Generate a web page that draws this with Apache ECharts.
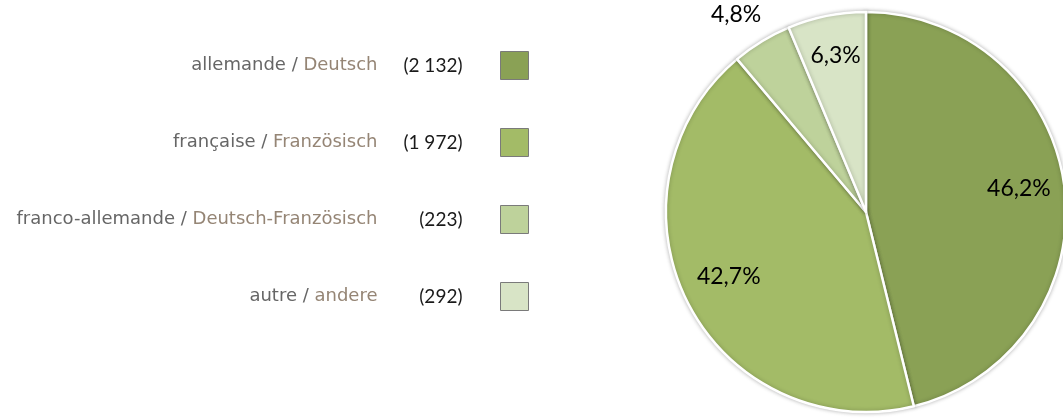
<!DOCTYPE html>
<html>
<head>
<meta charset="utf-8">
<script src="https://cdn.jsdelivr.net/npm/echarts@6/dist/echarts.min.js"></script>
<style>
  html, body { margin: 0; padding: 0; background: #fff; }
  #chart { width: 1063px; height: 418px; }
</style>
</head>
<body>
<div id="chart"></div>
<script>
// langue familiale / Familiensprache
var namesFr = ['allemande', 'française', 'franco-allemande', 'autre'];
var namesDe = ['Deutsch', 'Französisch', 'Deutsch-Französisch', 'andere'];
var counts = [2132, 1972, 223, 292];
var colors = ['#8aa155', '#a3bb67', '#bed29b', '#d8e4c6'];

var fullNames = namesFr.map(function (fr, i) { return fr + ' / ' + namesDe[i]; });
var total = counts.reduce(function (a, b) { return a + b; }, 0);

var cx = 866, cy = 212, r = 200;

function fmtCount(v) {
  return String(v).replace(/\B(?=(\d{3})+(?!\d))/g, ' ');
}

var chart = echarts.init(document.getElementById('chart'));

var option = {
  backgroundColor: '#fff',
  color: colors,
  legend: {
    orient: 'vertical',
    align: 'right',
    right: 534,
    top: 51,
    padding: 0,
    itemWidth: 28,
    itemHeight: 28,
    itemGap: 48,
    icon: 'rect',
    selectedMode: false,
    itemStyle: { borderColor: '#7a7a7a', borderWidth: 1 },
    data: fullNames,
    formatter: function (name) {
      var i = fullNames.indexOf(name);
      return '{fr|' + namesFr[i] + ' / }{de|' + namesDe[i] + '}{n|(' + fmtCount(counts[i]) + ')}';
    },
    textStyle: {
      fontFamily: 'DejaVu Sans',
      fontSize: 18,
      rich: {
        fr: { fontFamily: 'DejaVu Sans', fontSize: 18, color: '#666666' },
        de: { fontFamily: 'DejaVu Sans', fontSize: 18, color: '#958575' },
        n: { fontFamily: 'Lato', fontSize: 19, color: '#1a1a1a', width: 85, align: 'right', padding: [0, 33, 0, 0] }
      }
    }
  },
  series: [{
    type: 'pie',
    center: [cx, cy],
    radius: r,
    startAngle: 90,
    clockwise: true,
    silent: true,
    itemStyle: {
      borderColor: '#fff',
      borderWidth: 2.5,
      shadowBlur: 4,
      shadowColor: 'rgba(0,0,0,0.25)'
    },
    label: {
      position: 'inside',
      fontFamily: 'Lato',
      fontSize: 23,
      color: '#000',
      formatter: function (p) {
        return (p.value / total * 100).toFixed(1).replace('.', ',') + '%';
      }
    },
    labelLine: { show: false },
    labelLayout: function (params) {
      var i = params.dataIndex;
      var before = 0;
      for (var k = 0; k < i; k++) before += counts[k];
      var mid = (before + counts[i] / 2) / total * Math.PI * 2;
      var ratio = counts[i] / total < 0.05 ? 1.13 : 0.77;
      return {
        x: cx + Math.sin(mid) * r * ratio - (ratio > 1 ? 12 : 0),
        y: cy - Math.cos(mid) * r * ratio - 5,
        align: 'center',
        verticalAlign: 'middle'
      };
    },
    data: fullNames.map(function (n, i) { return { name: n, value: counts[i] }; })
  }]
};

chart.setOption(option);
</script>
</body>
</html>
